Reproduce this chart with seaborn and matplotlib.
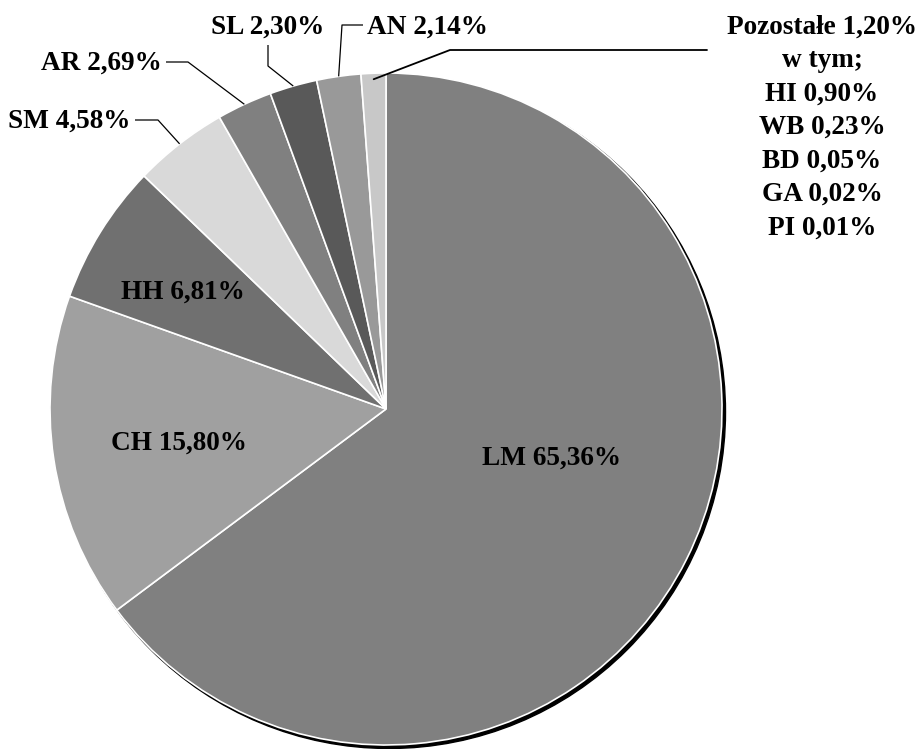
import matplotlib
matplotlib.use("Agg")
import matplotlib.pyplot as plt
import seaborn as sns
import numpy as np
from matplotlib.patches import Circle

# ---- data ----
categories = ["LM", "CH", "HH", "SM", "AR", "SL", "AN", "Pozostałe"]
values = [65.36, 15.80, 6.81, 4.58, 2.69, 2.30, 2.14, 1.20]
value_labels = ["65,36%", "15,80%", "6,81%", "4,58%", "2,69%", "2,30%", "2,14%", "1,20%"]
other_codes = ["HI", "WB", "BD", "GA", "PI"]
other_labels = ["0,90%", "0,23%", "0,05%", "0,02%", "0,01%"]
colors = ["#808080", "#a0a0a0", "#707070", "#d9d9d9", "#808080", "#595959", "#999999", "#c8c8c8"]

sns.set_theme(style="white")
plt.rcParams['font.family'] = ['Liberation Serif', 'DejaVu Serif']

W, H = 917, 749
fig = plt.figure(figsize=(W / 100, H / 100), dpi=100)
ax = fig.add_axes([0, 0, 1, 1])


def P(x, y):
    return x, H - y


cx, cy = P(386, 409)
R = 336

# shadow
ax.add_patch(Circle((cx + 3, cy - 3), R + 0.5, color="black", zorder=0))

wedges, _ = ax.pie(values, colors=colors, startangle=90, counterclock=False,
                   center=(cx, cy), radius=R,
                   wedgeprops=dict(edgecolor="white", linewidth=1.2))
for w in wedges:
    w.set_zorder(1)

FS = 19.6
tkw = dict(fontsize=FS, fontweight="bold", color="black")

# inside labels
inside_pos = {"LM": (551, 458), "CH": (179, 443), "HH": (183, 292)}
for i, c in enumerate(categories):
    if c in inside_pos:
        x, y = P(*inside_pos[c])
        ax.text(x, y, f"{c} {value_labels[i]}", ha="center", va="center", zorder=5, **tkw)


def anchor(i, rr=R):
    w = wedges[i]
    th = np.deg2rad((w.theta1 + w.theta2) / 2)
    return cx + rr * np.cos(th), cy + rr * np.sin(th)


# outside labels: (text pos, ha, elbow points in pixel coords)
outside = {
    "SM": dict(text=(130, 121), ha="right", path=[(135, 120), (158, 120)]),
    "AR": dict(text=(162, 63), ha="right", path=[(166, 62), (188, 62)]),
    "SL": dict(text=(268, 27), ha="center", path=[(268, 45), (268, 66)]),
    "AN": dict(text=(427, 27), ha="center", path=[(363, 25), (342, 25)]),
}
for i, c in enumerate(categories):
    if c in outside:
        o = outside[c]
        x, y = P(*o["text"])
        ax.text(x, y, f"{c} {value_labels[i]}", ha=o["ha"], va="center", zorder=5, **tkw)
        pts = [P(*p) for p in o["path"]] + [anchor(i)]
        ax.plot([p[0] for p in pts], [p[1] for p in pts], color="black", lw=0.9, zorder=4,
                solid_capstyle="butt")

# Pozostałe
i = categories.index("Pozostałe")
pts = [P(707, 50), P(450, 50), anchor(i, R - 6)]
ax.plot([p[0] for p in pts], [p[1] for p in pts], color="black", lw=1.3, zorder=4)
lines = [f"{categories[i]} {value_labels[i]}", "w tym;"] + \
        [f"{c} {v}" for c, v in zip(other_codes, other_labels)]
for k, line in enumerate(lines):
    x, y = P(822, 27 + 33.5 * k)
    ax.text(x, y, line, ha="center", va="center", zorder=5, **tkw)

ax.set_xlim(0, W)
ax.set_ylim(0, H)
ax.set_aspect("equal")
ax.axis("off")
fig.savefig("out.png", dpi=100, facecolor="white")
